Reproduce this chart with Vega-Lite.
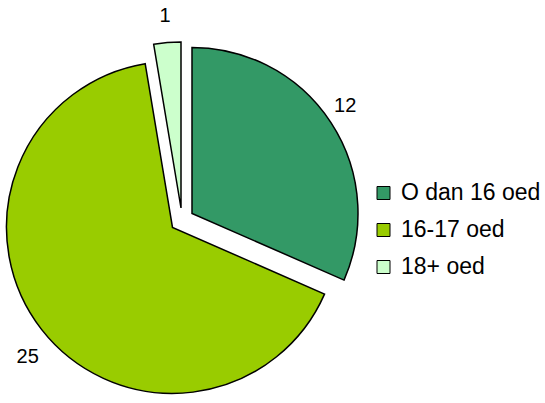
{
  "$schema": "https://vega.github.io/schema/vega-lite/v6.json",
  "autosize": "none",
  "padding": {"left": 0, "top": 37, "right": 181, "bottom": 0},
  "width": 364,
  "height": 366,
  "background": "white",
  "config": {"view": {"stroke": null}, "font": "Liberation Sans"},
  "data": {"values": [
    {"i": 1, "category": "O dan 16 oed", "value": 12},
    {"i": 2, "category": "16-17 oed", "value": 25},
    {"i": 3, "category": "18+ oed", "value": 1}
  ]},
  "transform": [
    {"stack": "value", "groupby": [], "sort": [{"field": "i", "order": "ascending"}], "as": ["v0", "v1"]}
  ],
  "encoding": {
    "theta": {"field": "v0", "type": "quantitative", "scale": {"domain": [0, 38]}},
    "theta2": {"field": "v1"},
    "color": {
      "field": "category", "type": "nominal",
      "scale": {"domain": ["O dan 16 oed", "16-17 oed", "18+ oed"], "range": ["#339966", "#99CC00", "#CCFFCC"]},
      "legend": {
        "title": null, "orient": "none", "legendX": 372, "legendY": 144.5,
        "symbolType": "square", "symbolSize": 169, "symbolStrokeColor": "black", "symbolStrokeWidth": 1,
        "symbolOpacity": 1,
        "labelFontSize": 23, "labelFont": "Liberation Sans", "labelColor": "black", "labelOffset": 6,
        "rowPadding": 13
      }
    }
  },
  "layer": [
    {
      "transform": [{"filter": "datum.i == 1"}],
      "layer": [
        {"mark": {"type": "arc", "outerRadius": 166, "stroke": "black", "strokeWidth": 1.5, "xOffset": 10, "yOffset": -6.6}},
        {"mark": {"type": "text", "radius": 187, "thetaOffset": 0.96, "fontSize": 20, "fill": "black", "xOffset": 10, "yOffset": -6.6}, "encoding": {"text": {"field": "value"}, "color": {"value": "black"}}}
      ]
    },
    {
      "transform": [{"filter": "datum.i == 2"}],
      "layer": [
        {"mark": {"type": "arc", "outerRadius": 166, "stroke": "black", "strokeWidth": 1.5, "xOffset": -9.5, "yOffset": 7.4}},
        {"mark": {"type": "text", "radius": 194, "thetaOffset": 2.0, "fontSize": 20, "fill": "black", "xOffset": -9.5, "yOffset": 7.4}, "encoding": {"text": {"field": "value"}, "color": {"value": "black"}}}
      ]
    },
    {
      "transform": [{"filter": "datum.i == 3"}],
      "layer": [
        {"mark": {"type": "arc", "outerRadius": 166, "stroke": "black", "strokeWidth": 1.5, "xOffset": -1, "yOffset": -12}},
        {"mark": {"type": "text", "radius": 193, "thetaOffset": 0.083, "fontSize": 20, "fill": "black", "xOffset": -1, "yOffset": -12}, "encoding": {"text": {"field": "value"}, "color": {"value": "black"}}}
      ]
    }
  ]
}
